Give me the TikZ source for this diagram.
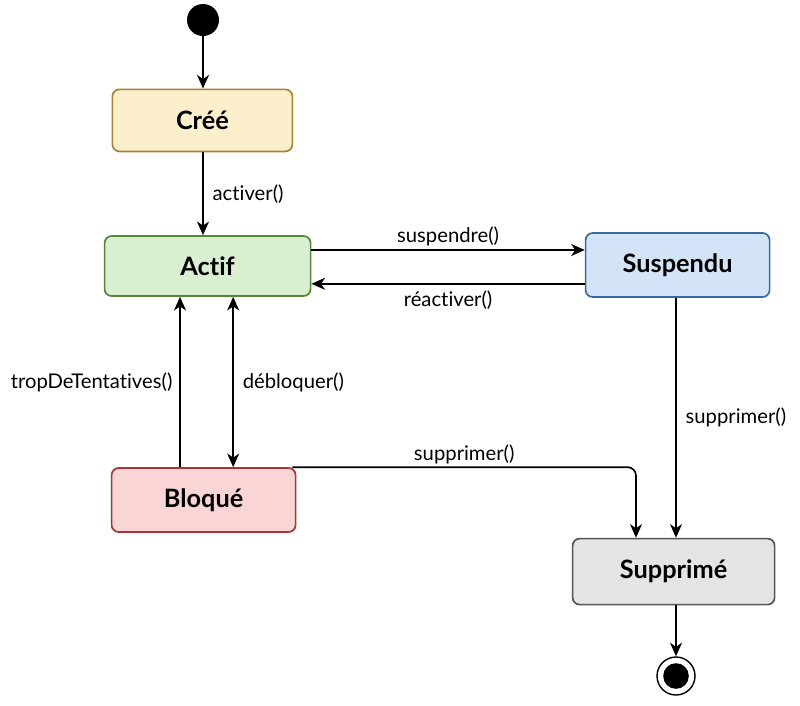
\documentclass[tikz,border=0pt]{standalone}
\usepackage{fontspec}
\setmainfont{Lato}[Ligatures={NoCommon}]
\usetikzlibrary{positioning, arrows.meta, calc}
\definecolor{creefill}{HTML}{FCEFCB}
\definecolor{creedraw}{HTML}{A8832E}
\definecolor{actiffill}{HTML}{D8F0D0}
\definecolor{actifdraw}{HTML}{55883A}
\definecolor{suspfill}{HTML}{D4E4F8}
\definecolor{suspdraw}{HTML}{3A68A6}
\definecolor{bloqfill}{HTML}{FAD5D5}
\definecolor{bloqdraw}{HTML}{A83434}
\definecolor{supprfill}{HTML}{E4E4E4}
\definecolor{supprdraw}{HTML}{555555}

\begin{document}
\begin{tikzpicture}[
    state/.style={
      font=\fontsize{18}{21}\selectfont\bfseries, align=center,
      rectangle, rounded corners=5pt, line width=1.2pt,
      minimum width=4.6cm, minimum height=1.55cm,
    },
    Scree/.style={state, fill=creefill, draw=creedraw, minimum width=4.5cm},
    Sactif/.style={state, fill=actiffill, draw=actifdraw, minimum width=5.15cm, minimum height=1.5cm},
    Ssusp/.style={state, fill=suspfill, draw=suspdraw, minimum height=1.6cm},
    Sbloq/.style={state, fill=bloqfill, draw=bloqdraw, minimum height=1.6cm},
    Ssuppr/.style={state, fill=supprfill, draw=supprdraw, minimum width=5.05cm, minimum height=1.65cm},
    trans/.style={-{Stealth[length=3.4mm, width=3mm, inset=1mm]}, line width=1.2pt, black},
    translabel/.style={font=\fontsize{14.4}{17}\selectfont, inner sep=2pt},
]
\useasboundingbox[fill=white] (0,0) rectangle (20,-17.625);

\node[circle, fill=black, minimum size=0.8cm, inner sep=0pt] (init) at (5.075,-0.5) {};
\node[Scree] (cree) at (5.06,-3.01) {Créé};
\node[Sactif] (actif) at (5.19,-6.65) {Actif};
\node[Ssusp] (susp) at (16.94,-6.625) {Suspendu};
\node[Sbloq] (bloq) at (5.09,-12.5) {Bloqué};
\node[Ssuppr] (suppr) at (16.84,-14.29) {Supprimé};
\node[circle, draw=black, line width=1pt, fill=white, minimum size=0.95cm, inner sep=0pt] (final) at (16.9,-16.9) {};
\node[circle, fill=black, minimum size=0.64cm, inner sep=0pt] at (final) {};

% initial and creation
\draw[trans] (init) -- (init |- cree.north);
\draw[trans] (init |- cree.south) -- (init |- actif.north)
    node[translabel, midway, right=0.15cm] {activer()};

% Actif <-> Suspendu
\draw[trans] ([yshift=0.4cm]actif.east) -- ([yshift=0.4cm]actif.east -| susp.west)
    node[translabel, midway, above] {suspendre()};
\draw[trans] ([yshift=-0.47cm]susp.west) -- ([yshift=-0.47cm]susp.west -| actif.east)
    node[translabel, midway, below=0.08cm] {réactiver()};

% Actif <-> Bloqué
\draw[trans] ([xshift=-0.59cm]bloq.north) -- ([xshift=-0.59cm]bloq.north |- actif.south)
    node[translabel, midway, left=0.1cm] {tropDeTentatives()};
\draw[trans, {Stealth[length=3.4mm, width=3mm, inset=1mm]}-{Stealth[length=3.4mm, width=3mm, inset=1mm]}]
    ([xshift=0.74cm]bloq.north |- actif.south) -- ([xshift=0.74cm]bloq.north)
    node[translabel, midway, right=0.15cm] {débloquer()};

% vers Supprimé
\draw[trans, rounded corners=6pt] ([xshift=-0.1cm]bloq.north east) -- ([xshift=-0.94cm]suppr.north |- bloq.north)
    node[translabel, pos=0.5, above] {supprimer()}
    -- ([xshift=-0.94cm]suppr.north);
\draw[trans] (final |- susp.south) -- (final |- suppr.north)
    node[translabel, midway, right=0.15cm] {supprimer()};
\draw[trans] (final |- suppr.south) -- (final);

\end{tikzpicture}
\end{document}
